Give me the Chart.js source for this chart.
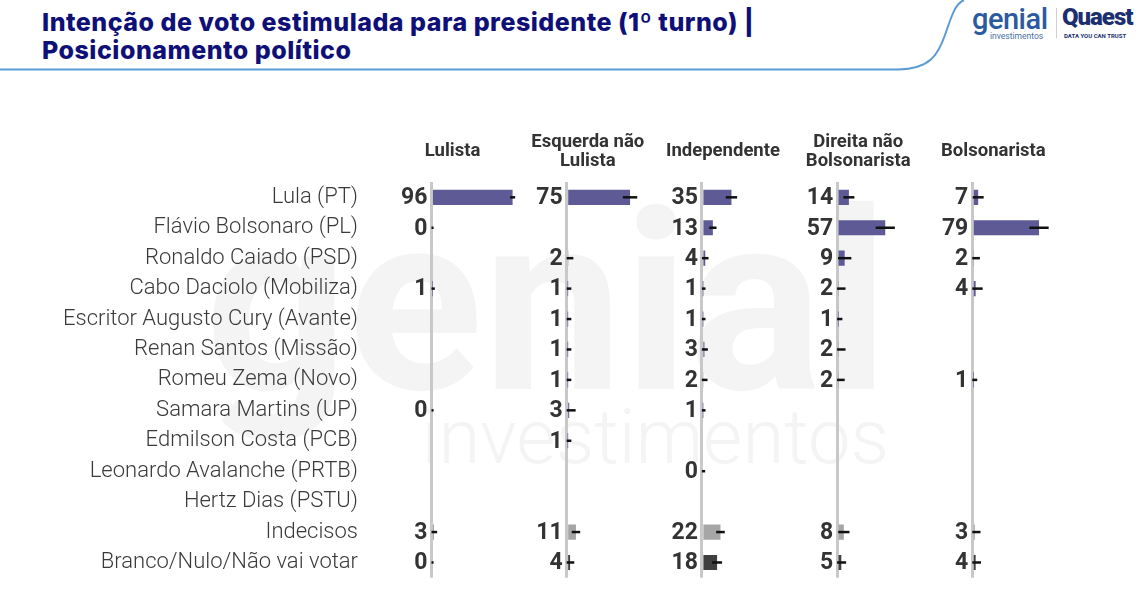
<!DOCTYPE html>
<html lang="pt-BR">
<head>
  <meta charset="UTF-8" />
  <title>Intenção de voto por posicionamento político</title>
  <script src="https://cdn.jsdelivr.net/npm/chart.js"></script>
  <style>
    html, body { margin: 0; padding: 0; background: #fff; }
    body {
      width: 1142px; height: 592px;
      position: relative; overflow: hidden;
      font-family: Roboto, sans-serif;
    }
    .wm { position: absolute; right: 253px; color: #f4f4f4; line-height: 1; white-space: nowrap; }
    #wm1 { top: 179px; font-size: 250px; font-weight: 700; }
    #wm2 { top: 399px; font-size: 76px; font-weight: 300; }
    #title {
      position: absolute; left: 42px; top: 8px;
      font-family: Inter, sans-serif; font-weight: 800;
      font-size: 25px; line-height: 28px; letter-spacing: 0.5px; color: #0f1077;
    }
    #curve { position: absolute; left: 0; top: 0; }
    #genial { position: absolute; left: 972px; top: 2px; font-size: 29px; font-weight: 500; color: #2c5aa0; letter-spacing: -0.5px; }
    #genial2 { position: absolute; left: 990px; top: 31px; font-size: 8.5px; color: #4a6fa5; }
    #sep { position: absolute; left: 1056px; top: 8px; width: 1px; height: 30px; background: #d0d0d0; }
    #quaest { position: absolute; left: 1062px; top: 3px; font-size: 24px; font-weight: 900; color: #1c2f6e; letter-spacing: -1px; }
    #quaest2 { position: absolute; left: 1064px; top: 32px; font-size: 6px; font-weight: 700; color: #1c2f6e; }
    #wrap { position: absolute; left: 0; top: 0; width: 1142px; height: 592px; }
  </style>
</head>
<body>
  <div class="wm" id="wm1">genial</div>
  <div class="wm" id="wm2">investimentos</div>

  <svg id="curve" width="1142" height="80">
    <path d="M0 69.5 H898 C930 69, 938 55, 945 35 S955 4, 964 0" fill="none" stroke="#5b9bd5" stroke-width="2" />
  </svg>
  <div id="title">Intenção de voto estimulada para presidente (1º turno) |<br>Posicionamento político</div>
  <div id="genial">genial</div>
  <div id="genial2">investimentos</div>
  <div id="sep"></div>
  <div id="quaest">Quaest</div>
  <div id="quaest2">DATA YOU CAN TRUST</div>

  <div id="wrap"><canvas id="chart"></canvas></div>

<script>
  const candidates = [
    "Lula (PT)", "Flávio Bolsonaro (PL)", "Ronaldo Caiado (PSD)", "Cabo Daciolo (Mobiliza)",
    "Escritor Augusto Cury (Avante)", "Renan Santos (Missão)", "Romeu Zema (Novo)",
    "Samara Martins (UP)", "Edmilson Costa (PCB)", "Leonardo Avalanche (PRTB)",
    "Hertz Dias (PSTU)", "Indecisos", "Branco/Nulo/Não vai votar"
  ];

  const groups = ["Lulista", ["Esquerda não", "Lulista"], "Independente", ["Direita não", "Bolsonarista"], "Bolsonarista"];

  // % por grupo (null = sem valor)
  const lulista      = [96, 0, null, 1, null, null, null, 0, null, null, null, 3, 0];
  const esquerda     = [75, null, 2, 1, 1, 1, 1, 3, 1, null, null, 11, 4];
  const independente = [35, 13, 4, 1, 1, 3, 2, 1, null, 0, null, 22, 18];
  const direita      = [14, 57, 9, 2, 1, 2, 2, null, null, null, null, 8, 5];
  const bolsonarista = [7, 79, 2, 4, null, null, 1, null, null, null, null, 3, 4];

  // margem de erro (+/-)
  const errLulista      = [3, 2.5, null, 3, null, null, null, 2.5, null, null, null, 3.7, 2.5];
  const errEsquerda     = [8.5, null, 5.9, 4.5, 4.5, 4.5, 4.5, 7.6, 4.5, null, null, 5, 5];
  const errIndependente = [6.7, 4.3, 3.9, 3.3, 3.3, 4.1, 4.7, 3.3, null, 3.9, null, 5.1, 5.9];
  const errDireita      = [6.5, 11.4, 7.9, 8, 5.3, 8, 7, null, null, null, null, 6.7, 5.7];
  const errBolsonarista = [6.5, 11.4, 7, 8.3, null, null, 4.9, null, null, null, null, 6.7, 6.3];

  const values = [lulista, esquerda, independente, direita, bolsonarista];
  const errors = [errLulista, errEsquerda, errIndependente, errDireita, errBolsonarista];

  const purple = '#5d5a96';
  const barColors = candidates.map((c, i) => i === 11 ? '#a6a6a6' : (i === 12 ? '#3f3f3f' : purple));

  const datasets = values.map((v, i) => ({
    label: Array.isArray(groups[i]) ? groups[i].join(' ') : groups[i],
    data: v,
    xAxisID: 'x' + i,
    yAxisID: 'y',
    grouped: false,
    backgroundColor: barColors,
    borderWidth: 0,
    categoryPercentage: 1,
    barPercentage: 0.5
  }));

  const scales = {
    y: {
      type: 'category',
      position: 'left',
      offset: true,
      grid: { display: false, drawTicks: false },
      border: { display: false },
      ticks: {
        color: '#3a3a3a',
        font: { family: 'Roboto', size: 22, weight: '300' },
        padding: 27,
        autoSkip: false
      },
      afterFit(scale) {
        scale.width = 385;
        scale.paddingTop = 0;
        scale.paddingBottom = 0;
      }
    }
  };

  // eixos empilhados lado a lado: o layout os coloca em ordem inversa
  for (let i = groups.length - 1; i >= 0; i--) {
    const g = groups[i];
    const single = !Array.isArray(g);
    scales['x' + i] = {
      type: 'linear',
      position: 'top',
      stack: 'panels',
      stackWeight: 1,
      min: -55,
      max: 105,
      afterBuildTicks(axis) { axis.ticks = [{ value: 0 }]; },
      ticks: { display: false },
      grid: { color: '#c8c8c8', lineWidth: 3, drawTicks: false },
      border: { display: false },
      title: {
        display: true,
        text: g,
        color: '#333',
        font: { family: 'Roboto', size: 18.5, weight: 'bold', lineHeight: 1.05 },
        padding: { top: single ? 9.7 : 0, bottom: 13 }
      }
    };
  }

  // rótulos de valor à esquerda da linha e barras de erro
  const labelsAndErrors = {
    id: 'labelsAndErrors',
    afterDatasetsDraw(chart) {
      const ctx = chart.ctx;
      ctx.save();
      chart.data.datasets.forEach((ds, i) => {
        const meta = chart.getDatasetMeta(i);
        const xs = chart.scales[meta.xAxisID];
        const x0 = xs.getPixelForValue(0);
        ds.data.forEach((v, j) => {
          if (v === null) return;
          const y = meta.data[j].y;
          const e = errors[i][j];
          if (e !== null) {
            ctx.strokeStyle = '#111';
            ctx.lineWidth = 2.5;
            ctx.beginPath();
            ctx.moveTo(xs.getPixelForValue(Math.max(0, v - e)), y);
            ctx.lineTo(xs.getPixelForValue(v + e), y);
            ctx.stroke();
          }
          ctx.fillStyle = '#333';
          ctx.font = 'bold 23px Roboto';
          ctx.textAlign = 'right';
          ctx.textBaseline = 'middle';
          ctx.fillText(String(v), x0 - 4, y + 1);
        });
      });
      ctx.restore();
    }
  };

  new Chart(document.getElementById('chart'), {
    type: 'bar',
    data: { labels: candidates, datasets: datasets },
    options: {
      indexAxis: 'y',
      responsive: true,
      maintainAspectRatio: false,
      animation: false,
      layout: { padding: { left: 0, right: 81, top: 132.2, bottom: 14.3 } },
      plugins: {
        legend: { display: false },
        tooltip: { enabled: false }
      },
      scales: scales
    },
    plugins: [labelsAndErrors]
  });
</script>
</body>
</html>
